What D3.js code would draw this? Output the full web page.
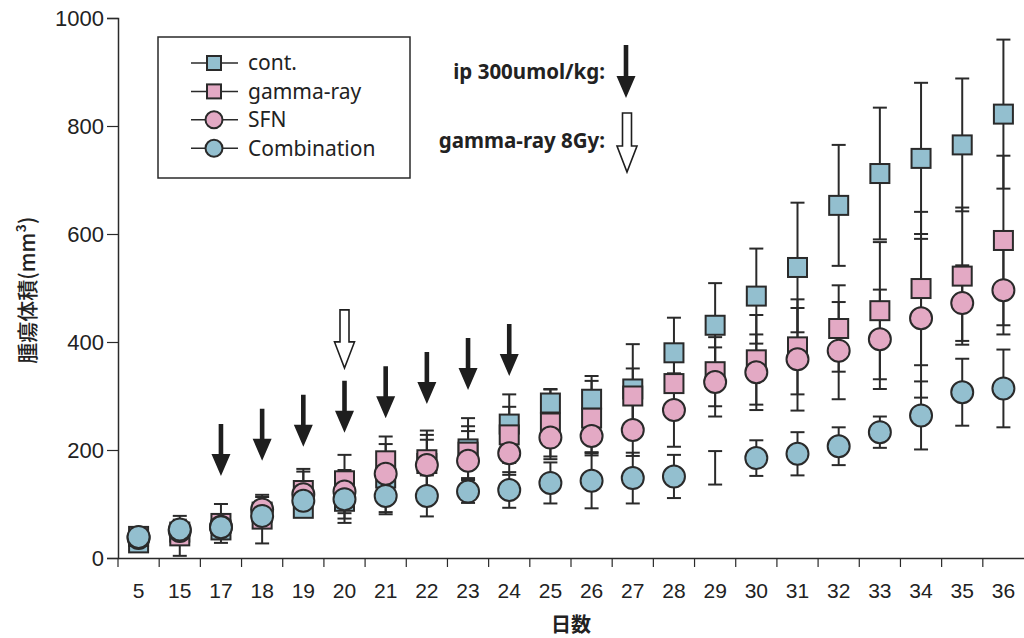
<!DOCTYPE html>
<html>
<head>
<meta charset="utf-8">
<script src="https://cdn.jsdelivr.net/npm/d3@7"></script>
<style>
  body { margin: 0; background: #fff; }
  svg { display: block; }
  .tick text { fill: #222; }
</style>
</head>
<body>
<div id="viz"></div>
<script>
// days after inoculation
var days = ["5","15","17","18","19","20","21","22","23","24","25","26","27","28","29","30","31","32","33","34","35","36"];

// tumour volume (mm3), mean and SD per group
var contMean  = [28, 48, 52, 85, 92, 105, 148, 175, 202, 248, 287, 294, 313, 380, 431, 485, 538, 653, 712, 740, 765, 822];
var contSD    = [8, 15, 17, 28, 15, 40, 63, 53, 57, 55, 26, 43, 83, 65, 78, 88, 120, 112, 122, 140, 123, 138];
var gammaMean = [40, 41, 64, 72, 125, 143, 180, 182, 196, 228, 250, 259, 300, 323, 345, 367, 391, 425, 458, 499, 522, 588];
var gammaSD   = [8, 37, 36, 45, 40, 48, 45, 54, 48, 52, 62, 69, 51, 45, 64, 83, 88, 80, 127, 142, 127, 157];
var sfnMean   = [37, 50, 58, 90, 118, 123, 156, 172, 180, 194, 223, 226, 237, 274, 326, 344, 368, 384, 405, 444, 472, 496];
var sfnSD     = [6, 15, 15, 15, 42, 40, 25, 47, 55, 40, 40, 30, 48, 68, 64, 70, 95, 90, 92, 147, 70, 82];
var combMean  = [39, 53, 57, 78, 106, 109, 115, 115, 123, 126, 139, 143, 148, 151, 167, 185, 193, 207, 233, 264, 307, 314];
var combSD    = [8, 18, 10, 15, 12, 36, 34, 38, 21, 33, 38, 51, 47, 40, 31, 33, 40, 35, 29, 63, 62, 72];
var combNoMarker = ["29"];

// treatment arrows (day, tip value on the y scale)
var ipDays = ["17","18","19","20","21","22","23","24"];
var ipTip  = [152, 180, 206, 232, 259, 285, 311, 337];
var rayDays = ["20"];
var rayTip  = [352];

var yTicks = [0, 200, 400, 600, 800, 1000];

var blue = "#93bfcf", pink = "#e3a9c4", ink = "#2a2a2a";

var series = [
  {name: "cont.",       mean: contMean,  sd: contSD,    shape: "square", fill: blue},
  {name: "gamma-ray",   mean: gammaMean, sd: gammaSD,   shape: "square", fill: pink},
  {name: "SFN",         mean: sfnMean,   sd: sfnSD,     shape: "circle", fill: pink},
  {name: "Combination", mean: combMean,  sd: combSD,    shape: "circle", fill: blue}
];

var width = 1024, height = 638;
var margin = {top: 18, right: 0, bottom: 80, left: 118};

var svg = d3.select("#viz").append("svg")
    .attr("width", width)
    .attr("height", height);

var x = d3.scaleBand().domain(days).range([margin.left, width]).padding(0);
var y = d3.scaleLinear().domain([0, 1000]).range([height - margin.bottom, margin.top]);
var cx = function(d){ return x(d) + x.bandwidth() / 2; };

// y axis
var yAxis = svg.append("g")
    .attr("transform", "translate(" + margin.left + ",0)")
    .call(d3.axisLeft(y).tickValues(yTicks).tickFormat(d3.format("d")).tickSize(11).tickPadding(3));
yAxis.select(".domain").attr("stroke", ink).attr("stroke-width", 1.5);
yAxis.selectAll(".tick line").attr("stroke", ink).attr("stroke-width", 1.2);
yAxis.selectAll(".tick text")
    .attr("font-family", "'Liberation Sans', Arial, sans-serif")
    .attr("font-size", 22);

// x axis: labels centred in bands, ticks at band edges
var xAxis = svg.append("g")
    .attr("transform", "translate(0," + y(0) + ")")
    .call(d3.axisBottom(x).tickSize(0).tickPadding(25));
xAxis.select(".domain").attr("stroke", ink).attr("stroke-width", 1.5);
xAxis.selectAll(".tick text")
    .attr("font-family", "'Liberation Sans', Arial, sans-serif")
    .attr("font-size", 21);
xAxis.selectAll(".edge")
    .data(days)
  .enter().append("line")
    .attr("class", "edge")
    .attr("x1", function(d){ return x(d); })
    .attr("x2", function(d){ return x(d); })
    .attr("y1", 0).attr("y2", 9)
    .attr("stroke", ink).attr("stroke-width", 1.2);

// axis titles
svg.append("text")
    .attr("transform", "translate(35," + y(496) + ") rotate(-90)")
    .attr("text-anchor", "middle")
    .attr("font-family", "'Noto Sans CJK JP', sans-serif")
    .attr("font-weight", 500)
    .attr("font-size", 21)
    .attr("fill", "#222")
    .text("腫瘍体積(mm³)");

svg.append("text")
    .attr("x", (margin.left + width) / 2)
    .attr("y", 632)
    .attr("text-anchor", "middle")
    .attr("font-family", "'Noto Sans CJK JP', sans-serif")
    .attr("font-weight", 700)
    .attr("font-size", 20)
    .attr("fill", "#222")
    .text("日数");

// error bars first, then markers on top
var capW = 7;
series.forEach(function(s){
  var g = svg.append("g");
  days.forEach(function(d, i){
    var hi = y(s.mean[i] + s.sd[i]), lo = y(Math.max(0, s.mean[i] - s.sd[i]));
    g.append("line").attr("x1", cx(d)).attr("x2", cx(d)).attr("y1", hi).attr("y2", lo)
      .attr("stroke", ink).attr("stroke-width", 2);
    [hi, lo].forEach(function(v){
      g.append("line").attr("x1", cx(d) - capW).attr("x2", cx(d) + capW).attr("y1", v).attr("y2", v)
        .attr("stroke", ink).attr("stroke-width", 2);
    });
  });
});

function marker(sel, shape, fill, size){
  if (shape === "square") {
    sel.append("rect").attr("x", -size / 2).attr("y", -size / 2)
      .attr("width", size).attr("height", size)
      .attr("fill", fill).attr("stroke", ink).attr("stroke-width", 2);
  } else {
    sel.append("circle").attr("r", size / 2 + 1.5)
      .attr("fill", fill).attr("stroke", ink).attr("stroke-width", 2);
  }
}

series.forEach(function(s){
  days.forEach(function(d, i){
    if (s.name === "Combination" && combNoMarker.indexOf(d) >= 0) return;
    var g = svg.append("g").attr("transform", "translate(" + cx(d) + "," + y(s.mean[i]) + ")");
    marker(g, s.shape, s.fill, 19);
  });
});

// arrows
function filledArrow(xp, tip, len){
  var hl = 22, hw = 9.5, sw = 2.3;
  return "M" + (xp - sw) + "," + (tip - len) + "L" + (xp + sw) + "," + (tip - len) +
         "L" + (xp + sw) + "," + (tip - hl) + "L" + (xp + hw) + "," + (tip - hl) +
         "L" + xp + "," + tip + "L" + (xp - hw) + "," + (tip - hl) +
         "L" + (xp - sw) + "," + (tip - hl) + "Z";
}
function openArrow(xp, tip, len){
  var hl = 26, hw = 10, sw = 4.5;
  return "M" + (xp - sw) + "," + (tip - len) + "L" + (xp + sw) + "," + (tip - len) +
         "L" + (xp + sw) + "," + (tip - hl) + "L" + (xp + hw) + "," + (tip - hl) +
         "L" + xp + "," + tip + "L" + (xp - hw) + "," + (tip - hl) +
         "L" + (xp - sw) + "," + (tip - hl) + "Z";
}

ipDays.forEach(function(d, i){
  svg.append("path").attr("d", filledArrow(cx(d), y(ipTip[i]), 52)).attr("fill", "#1e1e1e");
});
rayDays.forEach(function(d, i){
  svg.append("path").attr("d", openArrow(cx(d), y(rayTip[i]), 58))
    .attr("fill", "#fff").attr("stroke", "#1e1e1e").attr("stroke-width", 1.6);
});

// treatment key
var keyFont = "'Noto Sans', sans-serif";
svg.append("text").attr("x", 605).attr("y", 79).attr("text-anchor", "end")
  .attr("font-family", keyFont).attr("font-weight", 700).attr("font-size", 20.5).attr("fill", "#222")
  .text("ip 300umol/kg:");
svg.append("path").attr("d", filledArrow(626, 98, 53)).attr("fill", "#1e1e1e");
svg.append("text").attr("x", 605).attr("y", 148).attr("text-anchor", "end")
  .attr("font-family", keyFont).attr("font-weight", 700).attr("font-size", 20.5).attr("fill", "#222")
  .text("gamma-ray 8Gy:");
svg.append("path").attr("d", openArrow(627, 172, 59))
  .attr("fill", "#fff").attr("stroke", "#1e1e1e").attr("stroke-width", 1.6);

// legend
var legend = svg.append("g");
legend.append("rect").attr("x", 158).attr("y", 37).attr("width", 252).attr("height", 141)
  .attr("fill", "#fff").attr("stroke", ink).attr("stroke-width", 1.5);
series.forEach(function(s, i){
  var row = legend.append("g").attr("transform", "translate(214," + (63 + i * 28.4) + ")");
  row.append("line").attr("x1", -23).attr("x2", 24).attr("stroke", ink).attr("stroke-width", 1.5);
  marker(row, s.shape, s.fill, 14);
  row.append("text").attr("x", 34).attr("dy", "0.35em")
    .attr("font-family", keyFont).attr("font-size", 21).attr("fill", "#222")
    .text(s.name);
});
</script>
</body>
</html>
